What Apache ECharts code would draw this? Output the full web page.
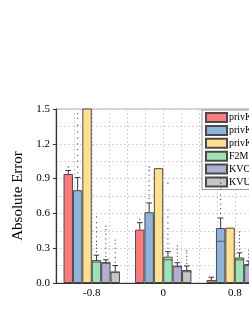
<!DOCTYPE html>
<html>
<head>
<meta charset="utf-8">
<script src="https://cdn.jsdelivr.net/npm/echarts@6/dist/echarts.min.js"></script>
<style>html,body{margin:0;padding:0;background:#fff;}#c{width:249px;height:323px;}</style>
</head>
<body>
<div id="c"></div>
<script>
const categories = ['-0.8', '0', '0.8'];
const seriesNames = ['privKV', 'privKVM', 'privKVM*', 'F2M', 'KVOH', 'KVUE'];
const seriesColors = ['#FF7B7B', '#8EB4DC', '#FFE08C', '#9FE2B8', '#AFAFD0', '#C6C6C6'];

// bar heights (mean absolute error)
const privKVMean   = [0.94, 0.46, 0.026];
const privKVMMean  = [0.80, 0.61, 0.474];
const privKVMsMean = [1.80, 0.99, 0.477];
const F2MMean      = [0.198, 0.227, 0.22];
const KVOHMean     = [0.18, 0.15, 0.164];
const KVUEMean     = [0.10, 0.112, 0.15];

// whisker caps
const privKVCap   = [0.97, 0.52, 0.05];
const privKVMCap  = [0.91, 0.69, 0.56];
const privKVMsCap = [null, null, null];
const F2MCap      = [0.24, 0.27, 0.26];
const KVOHCap     = [0.20, 0.175, 0.19];
const KVUECap     = [0.15, 0.147, 0.17];

// median lines
const privKVMed   = [null, null, null];
const privKVMMed  = [null, null, 0.36];
const privKVMsMed = [null, null, null];
const F2MMed      = [0.18, 0.20, 0.20];
const KVOHMed     = [0.17, 0.14, 0.15];
const KVUEMed     = [0.09, 0.097, 0.13];

// outliers per category
const privKVOut   = [[1.0], [0.55], []];
const privKVMOut  = [[0.95, 1.0, 1.05, 1.1, 1.15, 1.2, 1.25, 1.3, 1.36, 1.42, 1.46],
                     [0.73, 0.76, 0.8, 0.84, 0.88, 0.93, 0.97, 1.0],
                     [0.6, 0.64, 0.68, 0.72, 0.76, 0.81, 0.86, 0.9]];
const privKVMsOut = [[], [], []];
const F2MOut      = [[0.27, 0.3, 0.33, 0.36, 0.4, 0.44, 0.48, 0.52, 0.57],
                     [0.3, 0.34, 0.38, 0.42, 0.47, 0.52, 0.57, 0.63, 0.86],
                     [0.29, 0.32, 0.35, 0.38, 0.41, 0.44]];
const KVOHOut     = [[0.23, 0.26, 0.3, 0.34, 0.38, 0.42, 0.46, 0.49],
                     [0.2, 0.23, 0.26, 0.29, 0.32],
                     [0.22, 0.25, 0.28]];
const KVUEOut     = [[0.18, 0.22, 0.26, 0.3, 0.34, 0.37],
                     [0.17, 0.2, 0.23, 0.26, 0.28],
                     [0.2, 0.24]];

const yTicks = { min: 0, max: 1.5, interval: 0.3 };

const means = [privKVMean, privKVMMean, privKVMsMean, F2MMean, KVOHMean, KVUEMean];
const caps = [privKVCap, privKVMCap, privKVMsCap, F2MCap, KVOHCap, KVUECap];
const meds = [privKVMed, privKVMMed, privKVMsMed, F2MMed, KVOHMed, KVUEMed];
const outs = [privKVOut, privKVMOut, privKVMsOut, F2MOut, KVOHOut, KVUEOut];

const BAR_W = 9.4;
const SERIF = 'Liberation Serif';
const INK = '#333';

function num(v) { return (v === null || v === undefined) ? '-' : v; }

const series = [];
seriesNames.forEach((name, s) => {
  series.push({
    name: name, type: 'bar', data: means[s], barWidth: BAR_W, barGap: '0%',
    itemStyle: { color: seriesColors[s], borderColor: '#4a4a4a', borderWidth: 1 },
    z: 2
  });
});
seriesNames.forEach((name, s) => {
  series.push({
    name: name + ' box', type: 'custom', z: 3, clip: true, silent: true,
    data: categories.map((c, i) => [i, means[s][i], num(caps[s][i]), num(meds[s][i])]),
    encode: { x: 0, y: 1 },
    renderItem: function (params, api) {
      const cat = api.value(0);
      const mean = api.value(1), cap = api.value(2), med = api.value(3);
      const base = api.coord([cat, 0]);
      const x = base[0] + (s - 2.5) * BAR_W;
      const ch = [];
      if (isFinite(cap)) {
        const yT = api.coord([cat, mean])[1];
        const yC = api.coord([cat, cap])[1];
        ch.push({ type: 'line', shape: { x1: x, y1: yT, x2: x, y2: yC }, style: { stroke: INK, lineWidth: 1 } });
        ch.push({ type: 'line', shape: { x1: x - 2.8, y1: yC, x2: x + 2.8, y2: yC }, style: { stroke: INK, lineWidth: 1 } });
      }
      if (isFinite(med)) {
        const yM = api.coord([cat, med])[1];
        ch.push({ type: 'line', shape: { x1: x - BAR_W / 2, y1: yM, x2: x + BAR_W / 2, y2: yM }, style: { stroke: '#555', lineWidth: 1 } });
      }
      return { type: 'group', children: ch };
    }
  });
  const od = [];
  outs[s].forEach((arr, i) => arr.forEach(v => od.push([i, v])));
  series.push({
    name: name + ' out', type: 'custom', z: 4, clip: true, silent: true,
    data: od, encode: { x: 0, y: 1 },
    renderItem: function (params, api) {
      const p = api.coord([api.value(0), api.value(1)]);
      const x = p[0] + (s - 2.5) * BAR_W;
      return { type: 'circle', shape: { cx: x, cy: p[1], r: 0.65 }, style: { fill: '#444' } };
    }
  });
});

const chart = echarts.init(document.getElementById('c'), null, { renderer: 'canvas' });
chart.setOption({
  animation: false,
  backgroundColor: '#fff',
  grid: { left: 56, top: 109, width: 214.5, height: 174, show: true, borderColor: '#aaa', borderWidth: 1, outerBoundsMode: 'none', containLabel: false },
  legend: {
    data: seriesNames, orient: 'vertical', left: 202, top: 110,
    itemWidth: 21, itemHeight: 9, itemGap: 1.9, icon: 'rect',
    padding: [2, 3, 2, 3], backgroundColor: 'rgba(255,255,255,0.9)', borderColor: '#999', borderWidth: 1,
    textStyle: { fontFamily: SERIF, fontSize: 10, color: '#000', lineHeight: 9, padding: [0, 0, 0, -3] }
  },
  xAxis: [{
    type: 'category', data: categories, boundaryGap: true,
    axisLine: { lineStyle: { color: INK, width: 1.2 } },
    axisTick: { show: false },
    axisLabel: { fontFamily: SERIF, fontSize: 11, color: '#000', margin: 5 },
    splitLine: { show: false }
  }, {
    type: 'value', min: 0, max: 3, interval: 0.25, position: 'bottom',
    axisLine: { show: false }, axisTick: { show: false }, axisLabel: { show: false },
    splitLine: { show: true, lineStyle: { color: '#d4d4d4', type: [2, 2], width: 1 } }
  }],
  yAxis: {
    type: 'value', min: yTicks.min, max: yTicks.max, interval: yTicks.interval,
    name: 'Absolute Error', nameLocation: 'middle', nameGap: 21,
    nameTextStyle: { fontFamily: SERIF, fontSize: 15, color: '#000' },
    axisLine: { show: true, lineStyle: { color: INK, width: 1.2 } },
    axisTick: { show: true, length: 3, lineStyle: { color: INK } },
    axisLabel: { fontFamily: SERIF, fontSize: 11, color: '#000', margin: 6, formatter: v => v.toFixed(1) },
    splitLine: { show: true, lineStyle: { color: '#d4d4d4', type: [2, 2], width: 1 } },
    minorTick: { show: false, splitNumber: 2 },
    minorSplitLine: { show: true, lineStyle: { color: '#d4d4d4', type: [2, 2], width: 1 } }
  },
  series: series
});
</script>
</body>
</html>
